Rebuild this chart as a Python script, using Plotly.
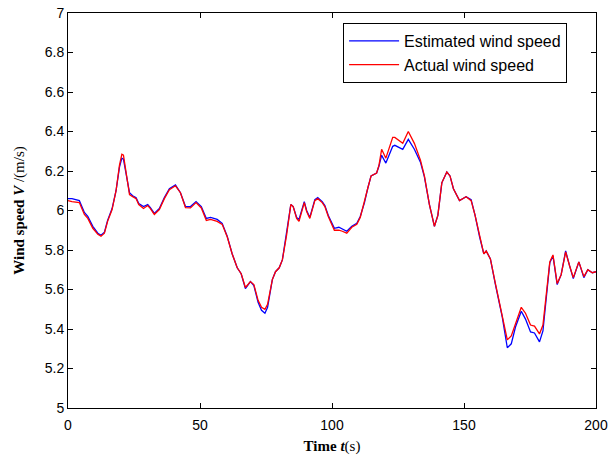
import plotly.graph_objects as go

# Time (s)
t = [0, 1.5, 4.3, 6.2, 7.5, 9.4, 11.3, 12.5, 13.8, 15.0, 16.7, 18.2, 19.5, 20.4, 21.0, 22.0,
     23.3, 24.5, 25.8, 26.8, 28.6, 30.2, 31.2, 32.7, 34.6, 36.5, 38.4, 40.7, 42.6, 44.5,
     46.4, 48.5, 50.5, 52.4, 54.0, 56.5, 58.4, 60.3, 62.2, 64.1, 65.6, 67.2, 69.1, 70.4,
     72.0, 73.3, 74.6, 75.6, 76.6, 77.4, 78.6, 80.0, 81.2, 82.8, 84.4, 85.3, 86.6, 87.5,
     89.5, 90.4, 91.6, 93.5, 94.6, 96.3, 97.3, 98.6, 100.9, 102.6, 103.9, 105.6, 107.5,
     109.4, 110.7, 112.3, 113.5, 114.8, 116.9, 117.8, 118.8, 120.4, 123.0, 123.8, 126.8,
     128.9, 131.2, 133.5, 135.0, 136.9, 138.8, 140.1, 141.6, 143.5, 144.7, 146.0, 148.3,
     150.8, 152.7, 154.2, 155.9, 157.5, 158.4, 160.0, 161.9, 164.5, 166.4, 167.9, 169.5,
     171.7, 173.3, 175.2, 176.7, 178.6, 179.9, 181.5, 182.5, 183.7, 185.3, 186.8, 188.5,
     190.0, 191.4, 193.5, 195.4, 196.9, 198.6, 200]

estimated = [6.06, 6.06, 6.05, 5.99, 5.97, 5.92, 5.885, 5.875, 5.89, 5.95, 6.01, 6.10, 6.22,
             6.265, 6.26, 6.18, 6.09, 6.075, 6.065, 6.035, 6.02, 6.03, 6.015, 5.985, 6.01,
             6.065, 6.11, 6.13, 6.09, 6.02, 6.02, 6.045, 6.02, 5.96, 5.965, 5.955, 5.935,
             5.87, 5.78, 5.71, 5.68, 5.605, 5.64, 5.62, 5.535, 5.495, 5.48, 5.51, 5.58, 5.65,
             5.69, 5.71, 5.75, 5.88, 6.03, 6.02, 5.965, 5.955, 6.045, 6.00, 5.965, 6.055,
             6.065, 6.045, 6.025, 5.975, 5.91, 5.915, 5.905, 5.895, 5.92, 5.935, 5.97, 6.04,
             6.11, 6.175, 6.19, 6.225, 6.28, 6.24, 6.325, 6.33, 6.31, 6.36, 6.31, 6.245,
             6.17, 6.03, 5.92, 5.975, 6.14, 6.195, 6.175, 6.11, 6.05, 6.07, 6.055, 5.975,
             5.867, 5.78, 5.795, 5.755, 5.625, 5.46, 5.305, 5.325, 5.41, 5.49, 5.45, 5.385,
             5.38, 5.335, 5.39, 5.625, 5.735, 5.77, 5.625, 5.675, 5.795, 5.72, 5.655, 5.74,
             5.66, 5.70, 5.685, 5.69]

actual = [6.05, 6.045, 6.04, 5.98, 5.96, 5.91, 5.88, 5.87, 5.885, 5.945, 6.005, 6.10, 6.23,
          6.285, 6.28, 6.19, 6.08, 6.07, 6.06, 6.03, 6.01, 6.025, 6.01, 5.98, 6.005, 6.06,
          6.105, 6.125, 6.09, 6.015, 6.013, 6.04, 6.013, 5.95, 5.955, 5.945, 5.93, 5.867,
          5.78, 5.71, 5.68, 5.61, 5.64, 5.625, 5.545, 5.51, 5.5, 5.525, 5.585, 5.65, 5.69,
          5.71, 5.75, 5.875, 6.03, 6.02, 5.96, 5.945, 6.04, 5.995, 5.96, 6.05, 6.06, 6.04,
          6.02, 5.97, 5.9, 5.9, 5.895, 5.885, 5.915, 5.93, 5.965, 6.04, 6.11, 6.175, 6.19,
          6.23, 6.31, 6.265, 6.37, 6.37, 6.34, 6.40, 6.34, 6.255, 6.175, 6.03, 5.92, 5.975,
          6.14, 6.195, 6.175, 6.11, 6.05, 6.07, 6.05, 5.975, 5.865, 5.78, 5.795, 5.755,
          5.63, 5.475, 5.345, 5.365, 5.43, 5.51, 5.48, 5.42, 5.415, 5.375, 5.42, 5.635,
          5.74, 5.775, 5.63, 5.675, 5.79, 5.72, 5.66, 5.74, 5.665, 5.70, 5.685, 5.69]

x_ticks = [0, 50, 100, 150, 200]
y_ticks = [5, 5.2, 5.4, 5.6, 5.8, 6, 6.2, 6.4, 6.6, 6.8, 7]
y_ticktext = ["5", "5.2", "5.4", "5.6", "5.8", "6", "6.2", "6.4", "6.6", "6.8", "7"]

fig = go.Figure()
fig.add_trace(go.Scatter(x=t, y=estimated, mode="lines", name="Estimated wind speed",
                         line=dict(color="#0000FF", width=1.3), legendgroup="a"))
fig.add_trace(go.Scatter(x=t, y=actual, mode="lines", name="Actual wind speed",
                         line=dict(color="#FF0000", width=1.3), legendgroup="b"))

axis_common = dict(showline=True, linecolor="black", linewidth=1, mirror="ticks",
                   ticks="inside", ticklen=5, tickcolor="black", showgrid=False,
                   zeroline=False, automargin=False, ticklabeloverflow="allow",
                   tickfont=dict(family="Liberation Sans, Arial", size=14, color="black"))

fig.update_layout(
    width=611, height=458,
    margin=dict(l=68, r=15, t=13, b=50),
    paper_bgcolor="white", plot_bgcolor="white",
    xaxis=dict(range=[0, 200], tickvals=x_ticks, ticktext=[str(v) for v in x_ticks],
               ticklabelstandoff=4,
               title=dict(text="<b>Time <i>t</i></b>(s)", standoff=8,
                          font=dict(family="Liberation Serif, Times New Roman", size=15, color="black")),
               **axis_common),
    yaxis=dict(range=[5, 7], tickvals=y_ticks, ticktext=y_ticktext,
               title=dict(text="<b>Wind speed <i>V</i></b> /(m/s)", standoff=16,
                          font=dict(family="Liberation Serif, Times New Roman", size=15, color="black")),
               **axis_common),
    legend=dict(x=0.521, y=0.975, xanchor="left", yanchor="top",
                bgcolor="white", bordercolor="black", borderwidth=1,
                tracegroupgap=0, itemwidth=50,
                font=dict(family="Liberation Sans, Arial", size=16, color="black")),
    showlegend=True,
)

fig.write_html("out.html", config={"displayModeBar": False},
               post_script="document.body.style.margin='0px';")
